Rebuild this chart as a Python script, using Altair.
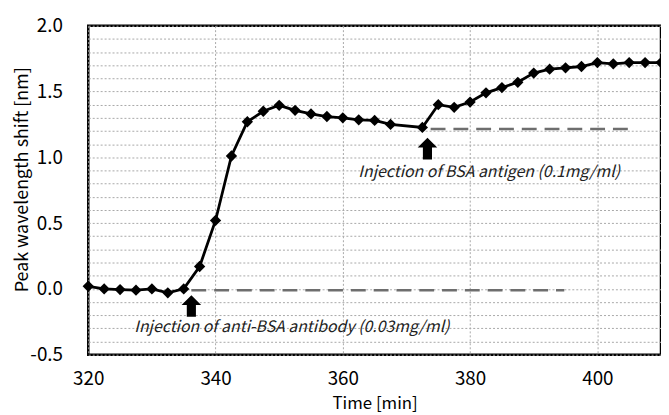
import altair as alt
import pandas as pd

# --- data ---
times = [320, 322.5, 325, 327.5, 330, 332.5, 335, 337.5, 340, 342.5, 345, 347.5,
         350, 352.5, 355, 357.5, 360, 362.5, 365, 367.5, 372.5, 375, 377.5, 380,
         382.5, 385, 387.5, 390, 392.5, 395, 397.5, 400, 402.5, 405, 407.5, 410]
shift = [0.02, 0.0, -0.005, -0.01, 0.0, -0.03, 0.0, 0.17, 0.52, 1.01, 1.27, 1.35,
         1.395, 1.357, 1.33, 1.31, 1.30, 1.285, 1.28, 1.25, 1.227, 1.40, 1.38, 1.42,
         1.49, 1.53, 1.57, 1.64, 1.67, 1.68, 1.69, 1.72, 1.71, 1.72, 1.72, 1.72]

base_start = [336.2, 373.8]
base_end = [394.8, 405.2]
base_level = [-0.01, 1.215]

arrow_x = [336.2, 373.3]
arrow_y = [-0.13, 1.066]

note_x = [352.0, 383.0]
note_y = [-0.29, 0.89]
note_text = ["Injection of anti-BSA antibody (0.03mg/ml)",
             "Injection of BSA antigen (0.1mg/ml)"]

x_ticks = [320, 340, 360, 380, 400]
y_grid = [round(-0.5 + 0.1 * i, 1) for i in range(26)]

FONT = "Noto Sans CJK JP"

df = pd.DataFrame({"t": times, "v": shift})
base_df = pd.DataFrame({"x": base_start, "x2": base_end, "y": base_level})
arrow_df = pd.DataFrame({"x": arrow_x, "y": arrow_y})
note_df = pd.DataFrame({"x": note_x, "y": note_y, "text": note_text})

xscale = alt.Scale(domain=[320, 410], nice=False, zero=False)
yscale = alt.Scale(domain=[-0.5, 2.0], nice=False, zero=False)

xaxis = alt.Axis(values=x_ticks, title="Time [min]", grid=True, gridDash=[2, 2],
                 gridColor="#a8a8a8", gridWidth=1, ticks=False, domain=False,
                 tickCount=20,
                 labelFont=FONT, labelFontSize=19, labelColor="black", labelPadding=15,
                 labelFlush=False, labelOverlap=False,
                 titleFont=FONT, titleFontSize=17, titleFontWeight="normal", titleColor="black",
                 titleBaseline="middle", titleY=49)
yaxis = alt.Axis(values=y_grid, title="Peak wavelength shift [nm]", grid=True,
                 gridDash=[2, 2], gridColor="#a8a8a8", gridWidth=1, ticks=False, domain=False,
                 tickCount=100,
                 labelExpr="abs(datum.value*2 - round(datum.value*2)) < 0.001 ? replace(format(datum.value, '.1f'), '\u2212', '-') : ''",
                 labelFont=FONT, labelFontSize=19, labelColor="black", labelPadding=26,
                 labelOverlap=False, labelFlush=False,
                 titleFont=FONT, titleFontSize=18, titleFontWeight="normal", titleColor="black",
                 titleBaseline="middle", titleAlign="center", titleX=-66, titleY=155)

line = alt.Chart(df).mark_line(color="black", strokeWidth=2.8).encode(
    x=alt.X("t:Q", scale=xscale, axis=xaxis),
    y=alt.Y("v:Q", scale=yscale, axis=yaxis),
)
pts = alt.Chart(df).mark_point(shape="diamond", filled=True, color="black", size=130,
                               opacity=1).encode(
    x=alt.X("t:Q", scale=xscale), y=alt.Y("v:Q", scale=yscale))

base = alt.Chart(base_df).mark_rule(color="#6e6e6e", strokeWidth=2.5,
                                    strokeDash=[15, 8]).encode(
    x=alt.X("x:Q", scale=xscale), x2="x2:Q", y=alt.Y("y:Q", scale=yscale))

arrow_path = "M0,-1L0.9,-0.1L0.42,-0.1L0.42,1L-0.42,1L-0.42,-0.1L-0.9,-0.1Z"
arrows = alt.Chart(arrow_df).mark_point(shape=arrow_path, filled=True, color="black",
                                        size=480, opacity=1, strokeWidth=0).encode(
    x=alt.X("x:Q", scale=xscale), y=alt.Y("y:Q", scale=yscale))

notes = alt.Chart(note_df).mark_text(font=FONT, fontSize=16, fontStyle="italic",
                                     color="#222222", align="center",
                                     baseline="middle").encode(
    x=alt.X("x:Q", scale=xscale), y=alt.Y("y:Q", scale=yscale), text="text:N")

chart = alt.layer(base, line, pts, arrows, notes).properties(
    width=578, height=332,
    autosize=alt.AutoSizeParams(type="none"),
    padding={"left": 81, "top": 16, "right": 0, "bottom": 60},
    background="white",
).configure_view(stroke="black", strokeWidth=2.5)

chart.save("out.html", embed_options={"renderer": "svg", "actions": False})
